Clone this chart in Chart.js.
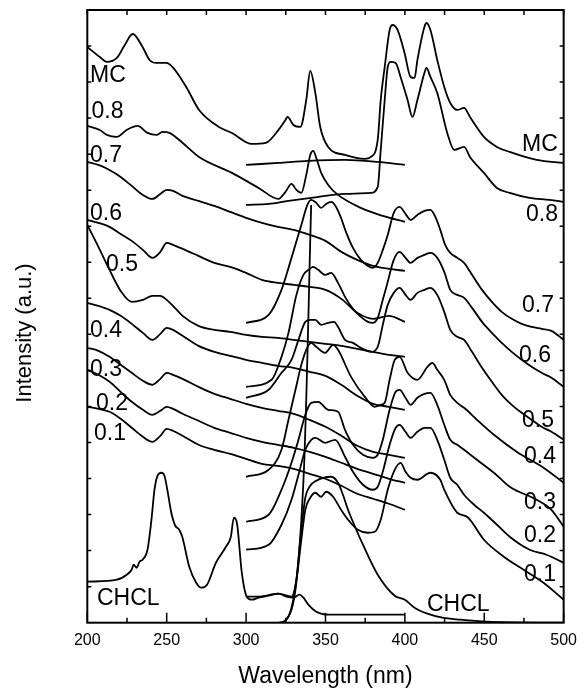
<!DOCTYPE html>
<html>
<head>
<meta charset="utf-8">
<script src="https://cdn.jsdelivr.net/npm/chart.js@4.4.1/dist/chart.umd.min.js"></script>
<style>
  html, body { margin: 0; padding: 0; background: #fff; }
  #wrap { width: 585px; height: 695px; }
</style>
</head>
<body>
<div id="wrap"><canvas id="spectra" width="585" height="695"></canvas></div>
<script>
// wavelength grid shared by the mixed-crystal absorption curves (nm)
const absNm = [200, 207, 214, 221, 228, 235, 241, 246, 250, 254, 260, 270, 280, 290, 300, 310, 320, 330, 340, 350, 360, 370, 380, 390, 400];
const abs07 = [461, 458, 453, 446, 437, 428, 424, 429, 433, 432, 427, 422, 417, 411, 405, 400, 396, 393, 388, 382, 371, 363, 357, 354, 352];
const abs06 = [403, 400, 396, 389, 382, 373, 365, 371, 380, 378, 374, 367, 360, 356, 350, 343, 340, 338, 336, 333, 324, 310, 304, 307, 301];
const abs05 = [398, 376, 353, 332, 321, 323, 327, 327, 323, 317, 307, 297, 293, 291, 288, 286, 285, 283, 281, 279, 277, 274, 271, 268, 266];
const abs04 = [320, 317, 313, 307, 299, 290, 283, 289, 295, 293, 287, 277, 271, 267, 263, 260, 257, 255, 251, 247, 238, 227, 219, 216, 213];
const abs03 = [275, 272, 266, 258, 250, 242, 238, 244, 250, 248, 244, 236, 229, 224, 219, 215, 212, 209, 203, 196, 187, 177, 171, 168, 165];
const abs02 = [253, 248, 241, 231, 221, 213, 208, 212, 216, 214, 209, 202, 195, 190, 185, 181, 178, 175, 171, 166, 160, 154, 149, 144, 140];
const abs01 = [216, 214, 211, 204, 195, 186, 181, 187, 194, 192, 187, 178, 173, 169, 164, 159, 157, 154, 149, 144, 137, 129, 124, 119, 113];

// MC: absorption running straight into emission, [nm, intensity]
const mcSpec = [[200,576],[207.9,566],[212.3,561],[218.6,565],[223.6,578],[228.6,589],[234.8,576],[239.2,563],[243.6,560],[249.8,560],[253.6,556],[262.3,536],[270.4,513],[282.9,496],[291.1,490],[303.6,479],[312.3,480],[320.4,493],[324.8,503],[326.1,506],[329.8,498],[334.2,496],[337.9,523],[340.4,552],[343.6,530],[346.7,496],[351.7,476],[362.3,468],[374.8,464],[378.6,466],[382.9,483],[384.8,523],[387.3,556],[390.4,593],[392.3,598],[395.4,593],[399.8,570],[403.6,546],[406.1,545],[407.9,563],[412.3,596],[413.6,600],[416.1,593],[420.4,563],[424.8,536],[428.6,520],[433,513],[437.3,515],[441,506],[449.8,486],[458,476],[466,471],[483,463],[500,460]];
const mcFlat = [[300,458],[320.4,460],[339.2,462],[362.3,463],[382.9,461],[400,458]];

const abs08 = [[200,497],[207.9,493],[212.3,488],[218.6,486],[224.8,493],[231.7,497],[237.9,490],[243.6,488],[247.3,491],[251.7,490],[257.9,483],[270.4,466],[291.1,450],[307.9,435],[320.4,424],[324.8,431],[328.6,439],[331.7,433],[334.8,430],[337.9,448],[340.4,468],[342.3,472],[344.2,465],[347.3,450],[351.7,438],[357.9,428],[372.3,415],[386.1,407],[400,401]];
const em08 = [[300,418],[314.2,419],[326.7,422],[341,425],[362.3,429],[378.6,430],[382.9,436],[384.8,473],[387.3,523],[389.2,556],[391.1,561],[394.2,560],[397.3,546],[401.7,523],[404.8,506],[407.9,523],[412.3,550],[413.6,555],[416.1,546],[420.4,530],[426.7,490],[431.1,473],[437.3,476],[441,466],[449.8,450],[458,435],[466,430],[478.6,425],[491.1,423],[500,421]];

const em07 = [[300,300],[314.2,308],[322.3,333],[328.6,365],[334.8,398],[338.6,418],[341,423],[344.2,420],[347.3,415],[350.4,419],[353.6,421],[356.7,416],[359.8,405],[362.9,391],[367.3,375],[372.3,363],[376.7,357],[379.8,355],[382.9,360],[386.1,373],[389.2,388],[393,410],[396.7,416],[400.4,409],[403.6,403],[407.9,408],[412.3,412],[416.1,413],[419.2,406],[422.3,393],[425.4,378],[428.6,370],[433,365],[437.3,360],[442.3,348],[448.6,333],[454.8,321],[461,311],[467.3,304],[473.6,299],[479.8,296],[486.1,294],[492.3,292],[500,283]];
const riseLine = [[323.6,0],[328.6,13],[331.1,33],[333,63],[334.8,103],[336.7,163],[337.9,223],[339.2,303],[339.8,343],[340.4,383],[341,418]];
const em06 = [[300,236],[316.1,243],[322.3,266],[326.7,290],[331.7,328],[336.1,348],[339.2,353],[342.3,356],[345.4,353],[349.8,348],[353.6,350],[357.9,340],[362.3,326],[367.3,314],[372.3,306],[376.7,301],[379.8,300],[382.9,305],[386.1,323],[389.2,341],[393,363],[396.7,371],[400.4,365],[403.6,360],[407.9,365],[412.3,368],[416.1,370],[420.4,365],[424.8,351],[428.6,333],[433,328],[437.3,325],[442.3,315],[448.6,301],[454.8,290],[461,280],[467.3,271],[473.6,263],[479.8,256],[486.1,250],[492.3,245],[500,236]];
const em05 = [[300,225],[314.2,233],[322.3,250],[328.6,263],[333,283],[337.3,301],[340.4,303],[343.6,303],[347.3,298],[351.7,300],[355.4,301],[357.9,296],[362.3,283],[367.3,280],[372.3,275],[378.6,271],[382.9,276],[386.1,298],[389.2,318],[393,330],[396.7,335],[400.4,328],[403.6,323],[407.9,330],[412.3,333],[416.1,335],[420.4,328],[424.8,311],[428.6,293],[433,286],[437.3,283],[442.3,271],[448.6,255],[454.8,241],[461,228],[467.3,218],[473.6,210],[479.8,203],[486.1,196],[492.3,191],[500,183]];
const em04 = [[300,146],[314.2,153],[322.3,173],[326.7,203],[331.1,233],[334.8,258],[337.9,273],[341,280],[344.2,276],[349.8,270],[354.8,278],[357.9,273],[366.1,246],[374.8,226],[381.1,216],[384.8,218],[387.3,220],[390.4,243],[393.6,263],[396.7,266],[401.7,250],[407.9,243],[414.2,256],[417.3,260],[420.4,253],[424.8,243],[428.6,228],[433,220],[437.3,215],[445.4,203],[456.1,188],[470.4,171],[487.3,155],[500,140]];
const em03 = [[300,101],[314.2,108],[322.3,133],[328.6,160],[333,183],[337.3,208],[341,220],[345.4,221],[351.7,213],[357.9,211],[362.3,193],[367.3,178],[373.6,168],[379.8,165],[382.9,168],[386.1,183],[390.4,213],[394.2,231],[396.7,233],[400.4,225],[403.6,218],[407.9,225],[412.3,229],[416.1,230],[420.4,218],[424.8,198],[428.6,183],[433,178],[437.3,173],[445.4,163],[456.1,150],[466,136],[483,123],[492.3,113],[500,96]];
const em02 = [[300,73],[314.2,78],[322.3,98],[328.6,123],[333,148],[337.3,173],[341,183],[343.6,185],[349.8,180],[356.1,183],[362.3,166],[367.3,151],[373.6,138],[379.8,133],[382.9,136],[386.1,151],[390.4,178],[394.2,195],[396.7,198],[400.4,191],[403.6,185],[407.9,191],[412.3,195],[416.1,195],[420.4,183],[424.8,163],[428.6,145],[433,138],[437.3,128],[443.6,118],[449.8,110],[458,98],[466,86],[478.6,73],[489.2,68],[500,60]];
const em01 = [[300,26],[307.9,26],[320.4,29],[328.6,26],[331.7,43],[334.8,83],[337.3,113],[340.4,125],[343.6,130],[347.3,126],[350.4,131],[354.8,126],[359.8,113],[364.2,103],[370.4,93],[376.7,90],[381.1,91],[384.8,103],[389.2,133],[393.6,153],[397.3,160],[400.4,151],[403.6,145],[407.9,143],[416.1,150],[422.3,143],[424.8,133],[433,110],[439.2,106],[449.8,83],[462.3,66],[474.8,53],[487.3,40],[500,23]];

const chclAbs = [[200,41],[218.6,43],[224.8,48],[227.9,53],[229.2,58],[231.1,55],[232.9,61],[234.8,63],[237.9,73],[240.4,103],[242.3,133],[244.2,147],[246.7,150],[248.6,147],[250.4,133],[252.9,110],[255.4,97],[257.9,93],[259.8,86],[264.2,56],[268.6,40],[271.7,35],[275.4,38],[281,60],[287.3,76],[290.4,86],[292.3,105],[294.2,100],[297.3,50],[300.4,26],[303.6,23],[307.9,25],[314.2,27],[320.4,29],[325.4,26],[329.8,25],[333.6,28],[336.1,25],[339.2,18],[344.2,11],[351.7,8],[400,8]];
const chclEm = [[320.4,0],[324.8,2],[328.6,15],[331.7,43],[334.8,93],[337.3,125],[340.4,137],[344.2,142],[348.6,145],[353.6,146],[357.9,140],[361,128],[364.2,113],[368.6,96],[373.6,78],[382.9,48],[393.6,27],[400,23],[406.1,15],[414.2,9],[423.6,5],[434.8,3],[451.7,1],[500,0]];

const xTicks = [200, 250, 300, 350, 400, 450, 500];
const yMax = 613;
const yDivisions = 17;

// curve names, left column and right column
const leftNames = ["MC", "0.8", "0.7", "0.6", "0.5", "0.4", "0.3", "0.2", "0.1", "CHCL"];
const rightNames = ["MC", "0.8", "0.7", "0.6", "0.5", "0.4", "0.3", "0.2", "0.1", "CHCL"];
const leftPos = [[90,82],[91.5,118],[90,162],[90,220],[106,271],[90,337],[90,376],[96,410],[94,440],[97,605]];
const rightPos = [[522,151],[526,221],[522,312],[519,362],[522,427],[524,463],[524,509],[524,542],[524,581],[427,611]];

const FONT = "'Liberation Sans', Arial, Helvetica, sans-serif";

function pairs(list) {
  return list.map(p => ({ x: p[0], y: p[1] }));
}
function grid(xs, ys) {
  return xs.map((x, i) => ({ x: x, y: ys[i] }));
}
function line(data) {
  return {
    data: data,
    showLine: true,
    borderColor: "#000",
    borderWidth: 1.8,
    pointRadius: 0,
    fill: false,
    cubicInterpolationMode: "monotone"
  };
}

const datasets = [
  line(pairs(mcSpec)), line(pairs(mcFlat)),
  line(pairs(abs08)), line(pairs(em08)),
  line(grid(absNm, abs07)), line(pairs(em07)), line(pairs(riseLine)),
  line(grid(absNm, abs06)), line(pairs(em06)),
  line(grid(absNm, abs05)), line(pairs(em05)),
  line(grid(absNm, abs04)), line(pairs(em04)),
  line(grid(absNm, abs03)), line(pairs(em03)),
  line(grid(absNm, abs02)), line(pairs(em02)),
  line(grid(absNm, abs01)), line(pairs(em01)),
  line(pairs(chclAbs)), line(pairs(chclEm))
];

// frame, inward ticks, curve names and the y title
const decor = {
  id: "decor",
  afterDraw(chart) {
    const ctx = chart.ctx;
    const a = chart.chartArea;
    const xs = chart.scales.x;
    const ys = chart.scales.y;
    ctx.save();
    ctx.strokeStyle = "#000";
    ctx.lineWidth = 2;
    ctx.strokeRect(a.left, a.top, a.right - a.left, a.bottom - a.top);

    ctx.lineWidth = 1.5;
    ctx.beginPath();
    for (let v = 200; v <= 500; v += 25) {
      const px = xs.getPixelForValue(v);
      const len = v % 50 === 0 ? 10 : 5;
      ctx.moveTo(px, a.bottom);
      ctx.lineTo(px, a.bottom - len);
      ctx.moveTo(px, a.top);
      ctx.lineTo(px, a.top + 5);
    }
    for (let k = 1; k < yDivisions; k++) {
      const py = ys.getPixelForValue(k * yMax / yDivisions);
      ctx.moveTo(a.left, py);
      ctx.lineTo(a.left + 4, py);
      ctx.moveTo(a.right, py);
      ctx.lineTo(a.right - 4, py);
    }
    ctx.stroke();

    ctx.fillStyle = "#000";
    ctx.font = "23px " + FONT;
    ctx.textAlign = "left";
    ctx.textBaseline = "alphabetic";
    leftNames.forEach((t, i) => ctx.fillText(t, leftPos[i][0], leftPos[i][1]));
    rightNames.forEach((t, i) => ctx.fillText(t, rightPos[i][0], rightPos[i][1]));

    ctx.font = "22px " + FONT;
    ctx.translate(30.5, 333);
    ctx.rotate(-Math.PI / 2);
    ctx.textAlign = "center";
    ctx.fillText("Intensity (a.u.)", 0, 0);
    ctx.restore();
  }
};

new Chart(document.getElementById("spectra"), {
  type: "scatter",
  data: { datasets: datasets },
  options: {
    responsive: false,
    animation: false,
    devicePixelRatio: 1,
    layout: { padding: { top: 10, right: 17.7, left: 0, bottom: 0 } },
    plugins: { legend: { display: false }, tooltip: { enabled: false } },
    scales: {
      x: {
        type: "linear",
        min: 200,
        max: 500,
        afterBuildTicks: s => { s.ticks = xTicks.map(v => ({ value: v })); },
        afterFit: s => { s.height = 72.3; },
        grid: { display: false, drawTicks: false },
        border: { display: false },
        ticks: { padding: 8, color: "#000", font: { family: FONT, size: 16 } },
        title: { display: true, text: "Wavelength (nm)", color: "#000", font: { family: FONT, size: 23 }, padding: { top: 0, bottom: 5 } }
      },
      y: {
        type: "linear",
        min: 0,
        max: yMax,
        afterFit: s => { s.width = 87.3; },
        grid: { display: false, drawTicks: false },
        border: { display: false },
        ticks: { display: false }
      }
    }
  },
  plugins: [decor]
});
</script>
</body>
</html>
